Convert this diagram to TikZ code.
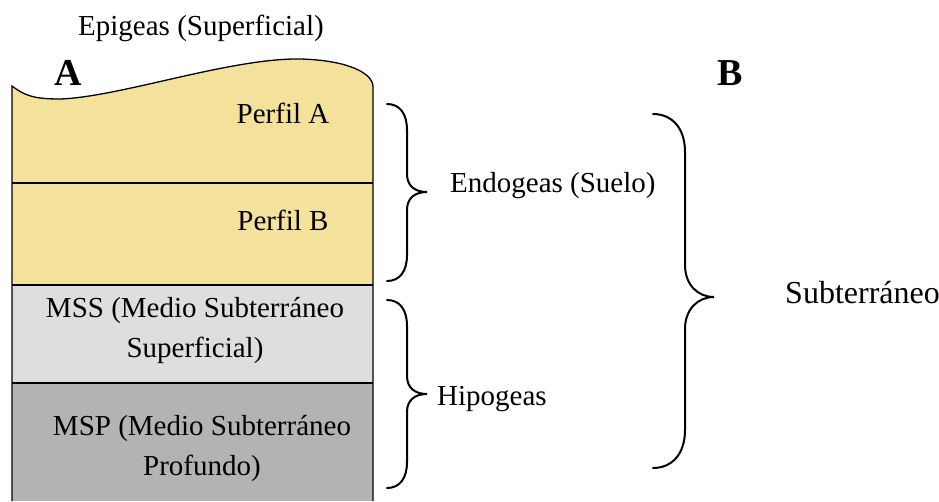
\documentclass[tikz,border=0pt]{standalone}
\usepackage{fontspec}
\setmainfont{Liberation Serif}
\definecolor{soilyellow}{HTML}{F4E29C}
\definecolor{mssgray}{HTML}{DEDEDE}
\definecolor{mspgray}{HTML}{B3B3B3}
\begin{document}
\begin{tikzpicture}[x=1pt,y=-1pt,
  lbl/.style={inner sep=0pt,font=\fontsize{29}{39.5}\selectfont,anchor=base},
  bigletter/.style={inner sep=0pt,font=\fontsize{38}{40}\selectfont\bfseries,anchor=base},
  layer/.style={draw=black,line width=1.3pt},
  bracestroke/.style={draw=black,line width=2pt,line cap=round}]
\useasboundingbox (0,0) rectangle (939,501);
% layers
\fill[soilyellow] (12,86) .. controls (25,96) and (35,99) .. (60,99)
  .. controls (120,97) and (230,58) .. (300,59)
  .. controls (345,60) and (372,72) .. (373,86) -- (373,285) -- (12,285) -- cycle;
\fill[mssgray] (12,285) rectangle (373,383);
\fill[mspgray] (12,383) rectangle (373,501);
\draw[layer] (12,501) -- (12,86) .. controls (25,96) and (35,99) .. (60,99)
  .. controls (120,97) and (230,58) .. (300,59)
  .. controls (345,60) and (372,72) .. (373,86) -- (373,501);
\draw[layer] (12,183) -- (373,183);
\draw[layer] (12,285) -- (373,285);
\draw[layer] (12,383) -- (373,383);
% texts
\node[lbl] (epi) at (201,35) {Epigeas (Superficial)};
\node[bigletter] (la) at (68,85) {A};
\node[bigletter] (lb) at (730,85) {B};
\node[lbl] (pa) at (283,123) {Perfil A};
\node[lbl] (pb) at (283,230) {Perfil B};
\node[lbl,align=center] (mss) at (195,357) {MSS (Medio Subterráneo\\Superficial)};
\node[lbl,align=center] (msp) at (202,475) {MSP (Medio Subterráneo\\Profundo)};
\node[lbl,anchor=base west] (endo) at (450,192) {Endogeas (Suelo)};
\node[lbl,anchor=base west] (hipo) at (437,405) {Hipogeas};
\node[lbl,anchor=base west,font=\fontsize{32}{38}\selectfont] (sub) at (785,303) {Subterráneo};
% braces
\coordinate (b1t) at (387,104);
\coordinate (b1m) at (427,192);
\coordinate (b1b) at (387,281);
\draw[bracestroke] (b1t) .. controls (400,104) and (407,114) .. (407,130)
  -- (407,174) .. controls (407,186) and (415,192) .. (b1m)
  .. controls (415,192) and (407,198) .. (407,210)
  -- (407,255) .. controls (407,271) and (400,281) .. (b1b);
\coordinate (b2t) at (387,300);
\coordinate (b2m) at (427,394);
\coordinate (b2b) at (387,488);
\draw[bracestroke] (b2t) .. controls (400,300) and (407,310) .. (407,326)
  -- (407,376) .. controls (407,388) and (415,394) .. (b2m)
  .. controls (415,394) and (407,400) .. (407,412)
  -- (407,462) .. controls (407,478) and (400,488) .. (b2b);
\coordinate (b3t) at (653,114);
\coordinate (b3m) at (714,297);
\coordinate (b3b) at (653,468);
\draw[bracestroke] (b3t) .. controls (672,114) and (685,128) .. (685,152)
  -- (685,265) .. controls (685,285) and (698,297) .. (b3m)
  .. controls (698,297) and (685,309) .. (685,329)
  -- (685,430) .. controls (685,454) and (672,468) .. (b3b);
\end{tikzpicture}
\end{document}
